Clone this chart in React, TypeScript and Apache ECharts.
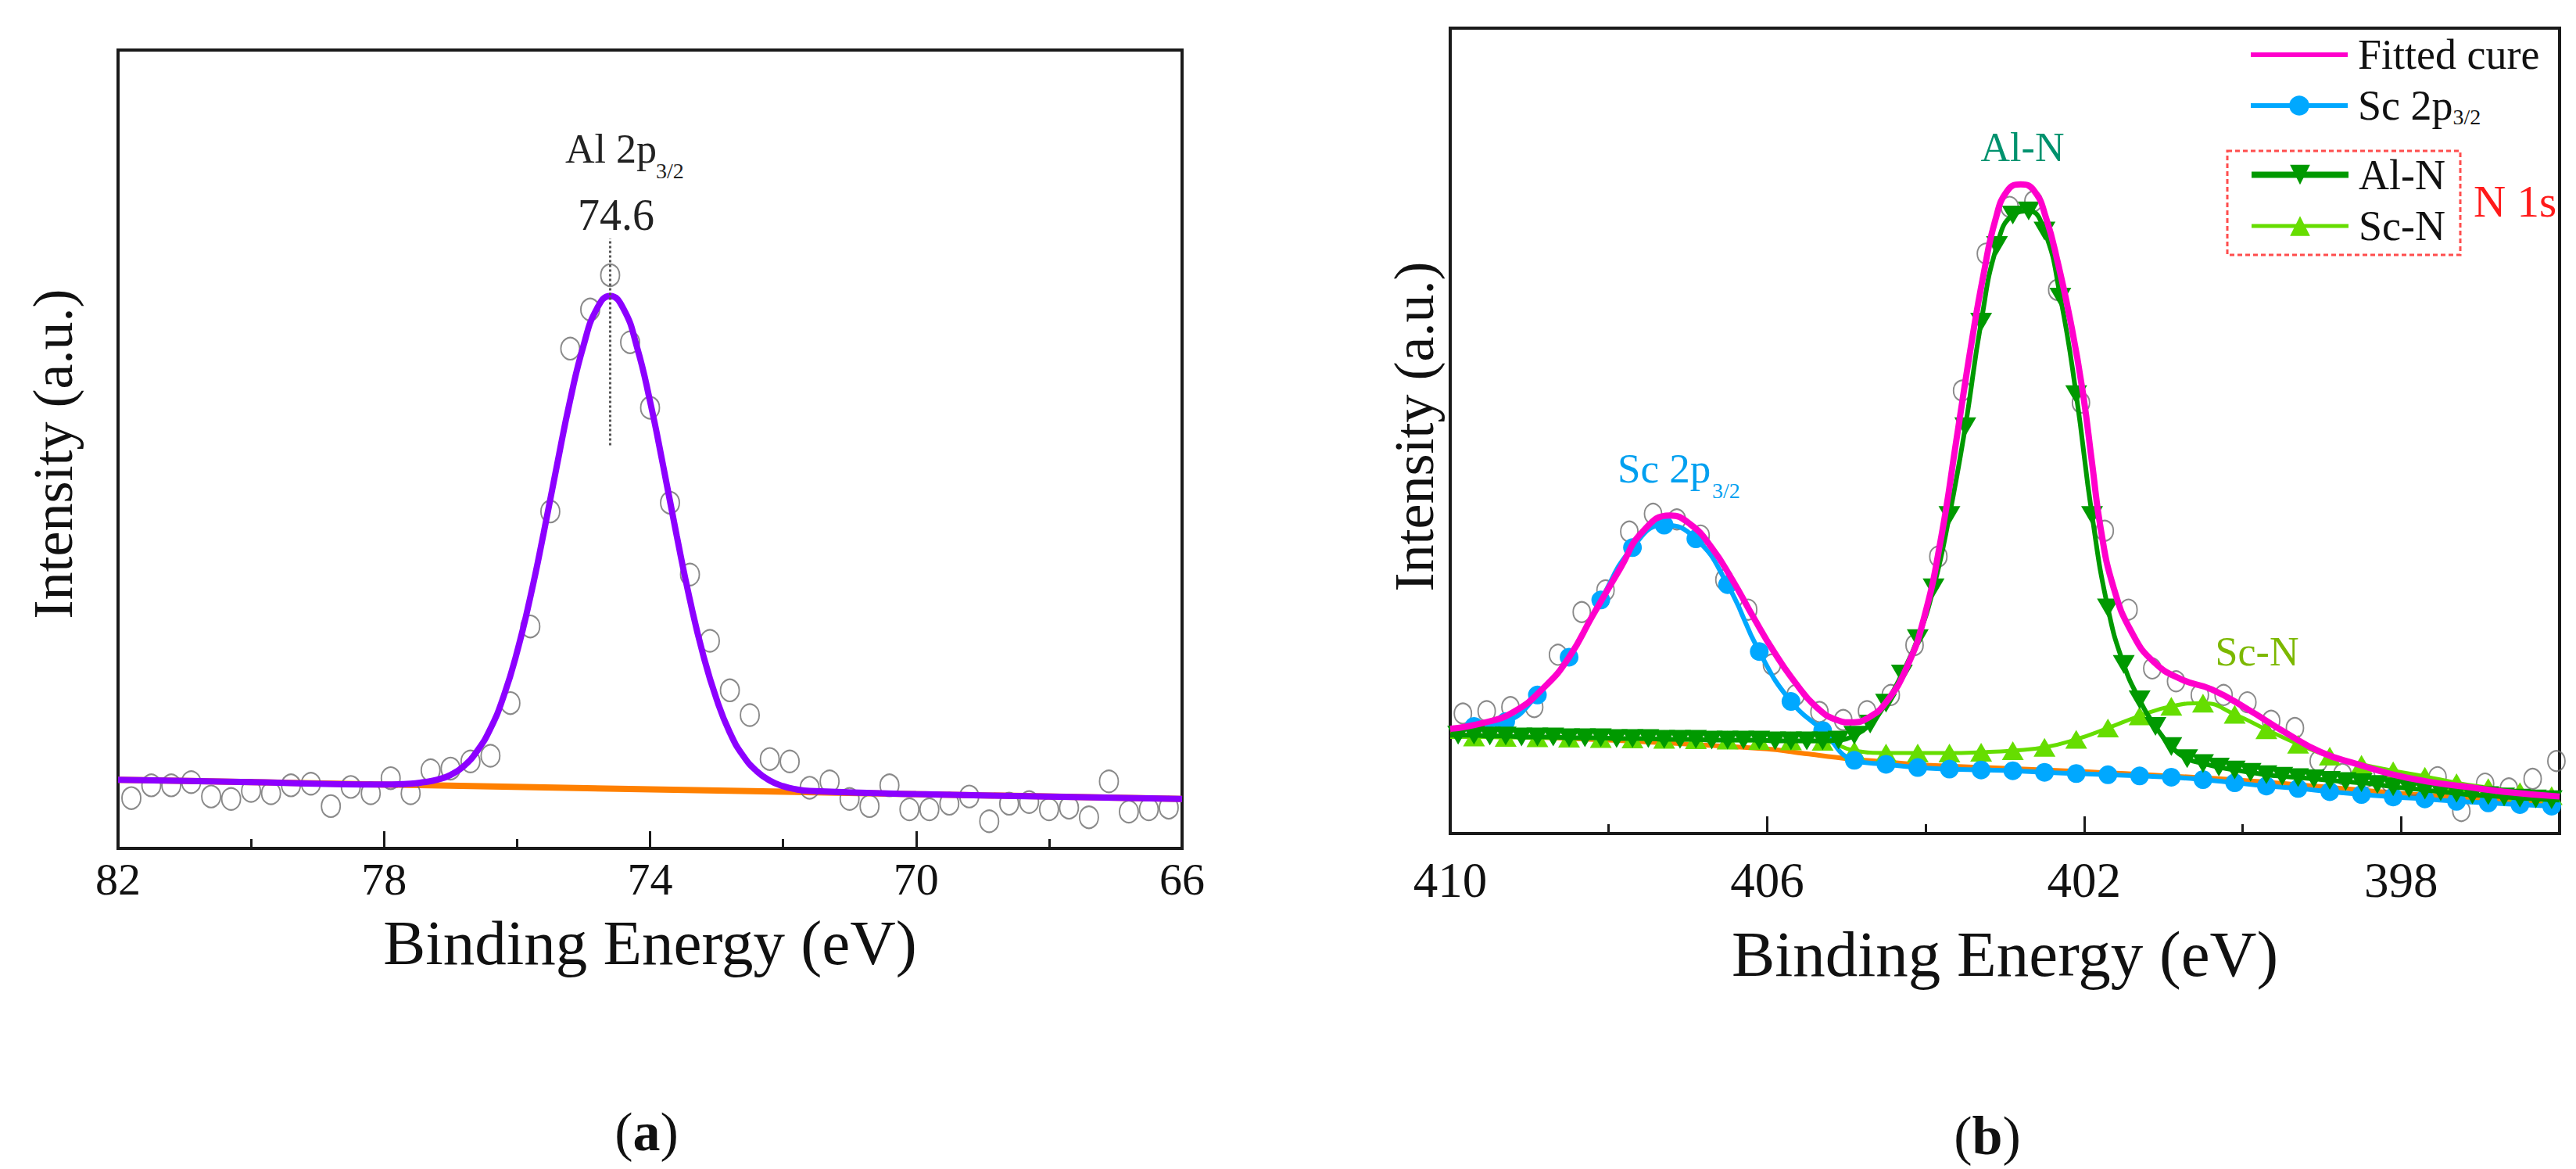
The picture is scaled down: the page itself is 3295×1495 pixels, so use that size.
import React, { useEffect, useRef } from 'react';
import * as echarts from 'echarts';

// ---------------- Panel (a): Al 2p ----------------
const alEnergy = [81.8, 81.5, 81.2, 80.9, 80.6, 80.3, 80.0, 79.7, 79.4, 79.1, 78.8, 78.5, 78.2, 77.9, 77.6, 77.3, 77.0, 76.7, 76.4, 76.1, 75.8, 75.5, 75.2, 74.9, 74.6, 74.3, 74.0, 73.7, 73.4, 73.1, 72.8, 72.5, 72.2, 71.9, 71.6, 71.3, 71.0, 70.7, 70.4, 70.1, 69.8, 69.5, 69.2, 68.9, 68.6, 68.3, 68.0, 67.7, 67.4, 67.1, 66.8, 66.5, 66.2];
const alCounts = [6.3, 7.9, 7.9, 8.3, 6.5, 6.2, 7.2, 6.9, 7.9, 8.1, 5.3, 7.7, 6.9, 8.8, 6.9, 9.8, 10.0, 10.9, 11.6, 18.2, 27.8, 42.2, 62.6, 67.5, 71.8, 63.4, 55.2, 43.3, 34.3, 26.0, 19.8, 16.7, 11.2, 10.9, 7.6, 8.4, 6.2, 5.3, 7.9, 4.9, 4.9, 5.6, 6.5, 3.4, 5.6, 5.8, 4.9, 5.1, 3.9, 8.4, 4.6, 4.9, 5.1];
const alFitEnergy = [82, 80, 78, 77.6, 77.4, 77.2, 77.0, 76.8, 76.6, 76.4, 76.2, 76.0, 75.8, 75.6, 75.4, 75.2, 75.0, 74.8, 74.6, 74.4, 74.2, 74.0, 73.8, 73.6, 73.4, 73.2, 73.0, 72.8, 72.6, 72.4, 72.2, 72.0, 71.8, 71.6, 70, 68, 66];
const alFitValue = [8.6, 8.3, 8.0, 8.1, 8.3, 8.6, 9.2, 10.3, 12.2, 15.0, 19.1, 24.6, 31.5, 39.5, 48.0, 56.2, 63.0, 67.6, 69.2, 67.6, 62.9, 56.0, 47.8, 39.2, 31.1, 24.2, 18.7, 14.5, 11.6, 9.7, 8.5, 7.8, 7.4, 7.2, 6.8, 6.5, 6.2];
const alBgEnergy = [82, 66];
const alBgValue = [8.6, 6.2];
const alPeakMark = [74.6, 50.5, 76.4]; // x, y from, y to (dotted guide)
const alTicksMajor = [66, 70, 74, 78, 82];
const alTicksMinor = [68, 72, 76, 80];

// ---------------- Panel (b): N 1s / Sc 2p ----------------
const nEnergy = [409.84, 409.54, 409.24, 408.94, 408.64, 408.34, 408.04, 407.74, 407.44, 407.14, 406.84, 406.54, 406.24, 405.94, 405.64, 405.34, 405.04, 404.74, 404.44, 404.14, 403.84, 403.54, 403.24, 402.94, 402.64, 402.34, 402.04, 401.74, 401.44, 401.14, 400.84, 400.54, 400.24, 399.94, 399.64, 399.34, 399.04, 398.74, 398.44, 398.14, 397.84, 397.54, 397.24, 396.94, 396.64, 396.34, 396.04];
const nCounts = [14.9, 15.2, 15.7, 15.7, 22.2, 27.5, 30.2, 37.5, 39.7, 39.0, 37.0, 31.5, 27.8, 21.0, 17.2, 15.1, 14.1, 15.2, 17.2, 23.4, 34.4, 55.0, 72.0, 77.8, 78.5, 67.5, 53.5, 37.6, 27.8, 20.5, 18.9, 17.2, 17.2, 16.3, 14.0, 13.1, 9.0, 7.4, 7.0, 6.4, 6.0, 7.0, 2.8, 6.2, 5.6, 6.8, 9.0];

const fitEnergy = [410.0, 409.6, 409.2, 408.8, 408.5, 408.2, 407.85, 407.58, 407.23, 406.97, 406.7, 406.44, 406.17, 405.91, 405.65, 405.38, 405.12, 404.94, 404.72, 404.5, 404.24, 404.02, 403.8, 403.61, 403.42, 403.27, 403.12, 402.97, 402.8, 402.63, 402.48, 402.33, 402.17, 402.02, 401.9, 401.79, 401.63, 401.4, 401.12, 400.76, 400.39, 399.93, 399.47, 399.01, 398.55, 398.09, 397.63, 397.17, 396.71, 396.0];
const fitValue = [13.0, 13.7, 15.1, 18.3, 21.9, 27.1, 33.0, 37.4, 39.5, 38.4, 35.5, 31.5, 26.8, 22.5, 18.8, 15.7, 14.1, 13.8, 14.4, 16.3, 20.6, 26.8, 37.0, 49.0, 61.0, 69.4, 76.2, 79.8, 80.6, 79.8, 76.4, 70.8, 63.5, 55.0, 46.0, 37.8, 30.6, 25.0, 21.3, 19.1, 17.9, 15.4, 12.6, 10.1, 8.6, 7.3, 6.4, 5.8, 5.2, 4.6];

const alnEnergy = [410, 409.9, 409.7, 409.5, 409.3, 409.1, 408.9, 408.7, 408.5, 408.3, 408.1, 407.9, 407.7, 407.5, 407.3, 407.1, 406.9, 406.7, 406.5, 406.3, 406.1, 405.9, 405.7, 405.5, 405.3, 405.1, 404.9, 404.7, 404.5, 404.3, 404.1, 403.9, 403.7, 403.5, 403.3, 403.1, 402.9, 402.7, 402.5, 402.3, 402.1, 401.9, 401.7, 401.5, 401.3, 401.1, 400.9, 400.7, 400.5, 400.3, 400.1, 399.9, 399.7, 399.5, 399.3, 399.1, 398.9, 398.7, 398.5, 398.3, 398.1, 397.9, 397.7, 397.5, 397.3, 397.1, 396.9, 396.7, 396.5, 396.3, 396.1, 396.0];
const alnValue = [12.2, 12.2, 12.2, 12.1, 12.1, 12.0, 12.0, 12.0, 11.9, 11.9, 11.9, 11.8, 11.8, 11.8, 11.7, 11.7, 11.7, 11.6, 11.6, 11.6, 11.6, 11.5, 11.5, 11.5, 11.5, 11.6, 12.2, 13.6, 16.2, 19.8, 24.2, 30.5, 39.5, 50.5, 63.5, 73.0, 76.8, 77.3, 74.8, 66.6, 54.5, 39.5, 28.0, 21.0, 16.6, 13.3, 10.8, 9.3, 8.7, 8.25, 7.9, 7.6, 7.3, 7.1, 6.95, 6.8, 6.6, 6.45, 6.3, 6.1, 5.8, 5.6, 5.4, 5.2, 5.0, 4.8, 4.7, 4.55, 4.4, 4.3, 4.2, 4.15];

const scEnergy = [410, 409.7, 409.3, 408.9, 408.5, 408.1, 407.7, 407.3, 406.9, 406.5, 406.1, 405.7, 405.3, 404.9, 404.5, 404.1, 403.7, 403.3, 402.9, 402.5, 402.1, 401.7, 401.3, 400.9, 400.5, 400.1, 399.7, 399.3, 398.9, 398.5, 398.1, 397.7, 397.3, 396.9, 396.5, 396.1, 396.0];
const sc2pValue = [12.9, 13.3, 13.9, 17.2, 21.9, 29.0, 35.5, 38.3, 36.6, 30.9, 22.6, 16.4, 12.8, 9.1, 8.6, 8.2, 8.0, 7.9, 7.8, 7.6, 7.45, 7.3, 7.15, 7.0, 6.7, 6.3, 5.9, 5.6, 5.2, 4.85, 4.55, 4.3, 4.0, 3.8, 3.6, 3.4, 3.35];
const scnValue = [12.0, 12.0, 11.95, 11.9, 11.85, 11.8, 11.75, 11.7, 11.65, 11.6, 11.55, 11.5, 11.45, 10.3, 10.0, 10.0, 10.0, 10.1, 10.3, 10.7, 11.7, 13.1, 14.6, 15.8, 16.2, 14.8, 12.9, 11.1, 9.6, 8.6, 7.8, 7.1, 6.3, 5.7, 5.2, 4.7, 4.65];

const nBgEnergy = [410, 408, 406, 405.5, 405, 404.5, 404, 402, 400, 398, 396];
const nBgValue = [12.3, 11.6, 10.5, 9.9, 9.3, 8.9, 8.5, 7.7, 6.6, 5.0, 3.5];

const nTicksMajor = [398, 402, 406, 410];
const nTicksMinor = [396, 400, 404, 408];

// ---------------- styling ----------------
const FONT = '"Liberation Serif", "Times New Roman", serif';
const FRAME = '#1a1a1a';
const C_FIT = '#ff00cc';
const C_SC2P = '#00a8ff';
const C_ALN = '#009900';
const C_SCN = '#66dd00';
const C_BG = '#ff8000';
const C_AL = '#8c00ff';
const DOWN_TRI = 'path://M0,0 L20,0 L10,17 Z';

const pairs = (xs: number[], ys: number[]) => xs.map((x, i) => [x, ys[i]]);
const withEndsHidden = (xs: number[], ys: number[]) =>
  xs.map((x, i) => (i === 0 || i === xs.length - 1 ? { value: [x, ys[i]], symbol: 'none' } : { value: [x, ys[i]] }));

const majorX = (gridIndex: number, min: number, max: number, ticks: number[], labelSize: number, margin: number, nameGap: number, nameSize: number) => ({
  type: 'value', gridIndex, min, max, inverse: true, position: 'bottom',
  axisLine: { show: true, onZero: false, lineStyle: { color: FRAME, width: 4 } },
  axisTick: { show: true, inside: true, length: 22, customValues: ticks, lineStyle: { color: FRAME, width: 3 } },
  axisLabel: { show: true, customValues: ticks, fontSize: labelSize, color: '#111', margin, fontFamily: FONT },
  splitLine: { show: false },
  name: 'Binding Energy (eV)', nameLocation: 'middle', nameGap,
  nameTextStyle: { fontSize: nameSize, color: '#111', fontFamily: FONT },
});
const minorX = (gridIndex: number, min: number, max: number, ticks: number[]) => ({
  type: 'value', gridIndex, min, max, inverse: true, position: 'bottom',
  axisLine: { show: false, onZero: false },
  axisTick: { show: true, inside: true, length: 12, customValues: ticks, lineStyle: { color: FRAME, width: 3 } },
  axisLabel: { show: false },
  splitLine: { show: false },
});
const yAx = (gridIndex: number, nameGap: number, padding: number[]) => ({
  type: 'value', gridIndex, min: 0, max: 100,
  axisLine: { show: false }, axisTick: { show: false }, axisLabel: { show: false }, splitLine: { show: false },
  name: 'Intensity (a.u.)', nameLocation: 'middle', nameGap,
  nameTextStyle: { fontSize: 72, color: '#111', fontFamily: FONT, padding },
});

const legendRich = {
  m: { fontSize: 54, lineHeight: 56, fontFamily: FONT, color: '#111' },
  s: { fontSize: 28, lineHeight: 4, verticalAlign: 'bottom', fontFamily: FONT, color: '#111' },
};
const legendFmt = (name: string) => (name === 'Sc 2p3/2' ? '{m|Sc 2p}{s|3/2}' : '{m|' + name + '}');
const legendBase = {
  orient: 'vertical', left: 2876, padding: 0, itemWidth: 124, itemHeight: 32, itemGap: 11,
  selectedMode: false, formatter: legendFmt,
  textStyle: { rich: legendRich, padding: [0, 0, 0, 8] },
};

const txt = (text: string, x: number, y: number, fontSize: number, fill: string, align = 'left') => ({
  type: 'text', x, y, silent: true,
  style: { text, x: 0, y: 0, fill, fontSize, fontFamily: FONT, align, verticalAlign: 'middle' },
});

const option = {
  animation: false,
  backgroundColor: '#ffffff',
  textStyle: { fontFamily: FONT },
  grid: [
    { left: 151, top: 64, width: 1361, height: 1021, show: true, borderColor: FRAME, borderWidth: 4, backgroundColor: 'transparent' },
    { left: 1855, top: 36, width: 1419, height: 1030, show: true, borderColor: FRAME, borderWidth: 4, backgroundColor: 'transparent' },
  ],
  xAxis: [
    majorX(0, 66, 82, alTicksMajor, 58, 10, 80, 81),
    minorX(0, 66, 82, alTicksMinor),
    majorX(1, 396, 410, nTicksMajor, 63, 28, 112, 83),
    minorX(1, 396, 410, nTicksMinor),
  ],
  yAxis: [yAx(0, 47, [0, 12, 0, 0]), yAx(1, 10, [0, 0, 0, 11])],
  legend: [
    {
      ...legendBase, top: 43,
      data: [
        { name: 'Fitted cure', itemStyle: { opacity: 0 }, lineStyle: { width: 6 } },
        { name: 'Sc 2p3/2', lineStyle: { width: 6 } },
      ],
    },
    {
      ...legendBase, top: 196.5, itemGap: 11.5,
      data: [
        { name: 'Al-N', lineStyle: { width: 8 } },
        { name: 'Sc-N', lineStyle: { width: 5 } },
      ],
    },
  ],
  series: [
    // panel (a)
    {
      name: 'Background (a)', type: 'line', xAxisIndex: 0, yAxisIndex: 0, data: pairs(alBgEnergy, alBgValue),
      symbol: 'none', lineStyle: { color: C_BG, width: 8 }, z: 1,
    },
    {
      name: 'Data (a)', type: 'scatter', xAxisIndex: 0, yAxisIndex: 0, data: pairs(alEnergy, alCounts),
      symbol: 'circle', symbolSize: [24, 28], itemStyle: { color: 'rgba(0,0,0,0)', borderColor: '#6b6b6b', borderWidth: 2 }, z: 2,
    },
    {
      name: 'Al 2p fit', type: 'line', xAxisIndex: 0, yAxisIndex: 0, data: pairs(alFitEnergy, alFitValue),
      smooth: 0.5, symbol: 'none', lineStyle: { color: C_AL, width: 8 }, z: 3,
      markLine: {
        silent: true, symbol: ['none', 'none'], label: { show: false },
        lineStyle: { type: 'dotted', color: '#555', width: 3 },
        data: [[{ coord: [alPeakMark[0], alPeakMark[1]] }, { coord: [alPeakMark[0], alPeakMark[2]] }]],
      },
    },
    // panel (b)
    {
      name: 'Background (b)', type: 'line', xAxisIndex: 2, yAxisIndex: 1, data: pairs(nBgEnergy, nBgValue),
      smooth: 0.3, symbol: 'none', lineStyle: { color: C_BG, width: 6 }, z: 1,
    },
    {
      name: 'Data (b)', type: 'scatter', xAxisIndex: 2, yAxisIndex: 1, data: pairs(nEnergy, nCounts),
      symbol: 'circle', symbolSize: [22, 26], itemStyle: { color: 'rgba(0,0,0,0)', borderColor: '#6b6b6b', borderWidth: 2 }, z: 2,
    },
    {
      name: 'Sc-N', type: 'line', xAxisIndex: 2, yAxisIndex: 1, data: withEndsHidden(scEnergy, scnValue),
      smooth: 0.5, symbol: 'triangle', symbolSize: [28, 24], showSymbol: true,
      lineStyle: { color: C_SCN, width: 5 }, itemStyle: { color: C_SCN }, z: 3,
    },
    {
      name: 'Sc 2p3/2', type: 'line', xAxisIndex: 2, yAxisIndex: 1, data: withEndsHidden(scEnergy, sc2pValue),
      smooth: 0.5, symbol: 'circle', symbolSize: 24, showSymbol: true,
      lineStyle: { color: C_SC2P, width: 6 }, itemStyle: { color: C_SC2P }, z: 4,
    },
    {
      name: 'Al-N', type: 'line', xAxisIndex: 2, yAxisIndex: 1, data: withEndsHidden(alnEnergy, alnValue),
      smooth: 0.5, symbol: DOWN_TRI, symbolSize: [28, 24], showSymbol: true,
      lineStyle: { color: C_ALN, width: 6 }, itemStyle: { color: C_ALN }, z: 5,
    },
    {
      name: 'Fitted cure', type: 'line', xAxisIndex: 2, yAxisIndex: 1, data: pairs(fitEnergy, fitValue),
      smooth: 0.5, symbol: 'none', lineStyle: { color: C_FIT, width: 8 }, itemStyle: { color: C_FIT }, z: 6,
    },
  ],
  graphic: [
    // panel (a) annotations
    txt('Al 2p', 723, 190, 52, '#222'),
    txt('3/2', 839, 218, 28, '#222'),
    txt('74.6', 788, 275, 56, '#222', 'center'),
    // panel (b) annotations
    txt('Sc 2p', 2069, 599, 53, '#00a0f0'),
    txt('3/2', 2190, 627, 28, '#00a0f0'),
    txt('Al-N', 2587, 188, 52, '#00926e', 'center'),
    txt('Sc-N', 2887, 833, 52, '#7cb800', 'center'),
    {
      type: 'rect', silent: true, shape: { x: 2849, y: 193, width: 298, height: 133 },
      style: { fill: 'none', stroke: '#ff4d4d', lineWidth: 3, lineDash: [6, 4] },
    },
    txt('N 1s', 3164, 257, 57, '#ff1a1a'),
    // panel captions
    {
      type: 'text', x: 827, y: 1447, silent: true,
      style: {
        text: '{p|(}{b|a}{p|)}', x: 0, y: 0, align: 'center', verticalAlign: 'middle',
        rich: { p: { fontSize: 70, fontFamily: FONT, fill: '#111' }, b: { fontSize: 70, fontFamily: FONT, fontWeight: 'bold', fill: '#111' } },
      },
    },
    {
      type: 'text', x: 2542, y: 1452, silent: true,
      style: {
        text: '{p|(}{b|b}{p|)}', x: 0, y: 0, align: 'center', verticalAlign: 'middle',
        rich: { p: { fontSize: 70, fontFamily: FONT, fill: '#111' }, b: { fontSize: 70, fontFamily: FONT, fontWeight: 'bold', fill: '#111' } },
      },
    },
  ],
};

export default function App() {
  const ref = useRef<HTMLDivElement>(null);
  useEffect(() => {
    document.body.style.margin = '0';
    const chart = echarts.init(ref.current as HTMLDivElement, null, { renderer: 'svg' });
    chart.setOption(option as any);
    return () => chart.dispose();
  }, []);
  return (
    <div
      ref={ref}
      style={{ position: 'absolute', left: 0, top: 0, width: 3295, height: 1495, background: '#ffffff' }}
    />
  );
}
